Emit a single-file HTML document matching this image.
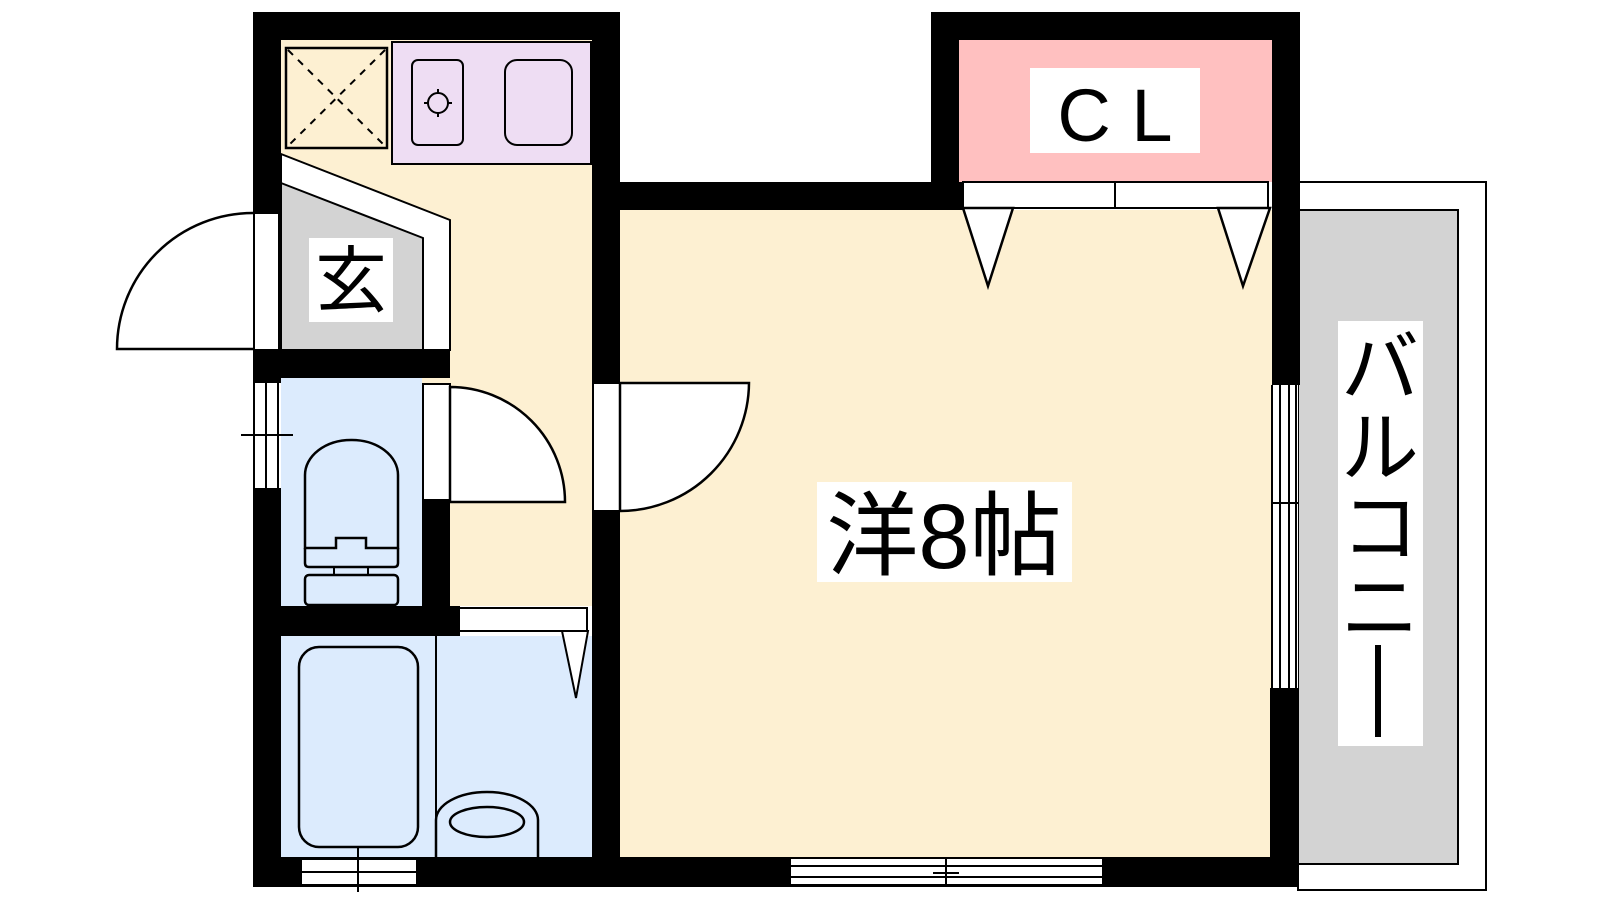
<!DOCTYPE html>
<html><head><meta charset="utf-8"><style>
html,body{margin:0;padding:0;background:#fff;width:1600px;height:900px;overflow:hidden}
svg{display:block}
text{font-family:"Liberation Sans","Noto Sans CJK JP",sans-serif;fill:#000}
</style></head><body>
<svg width="1600" height="900" viewBox="0 0 1600 900" xmlns="http://www.w3.org/2000/svg">
<rect x="281" y="40" width="311" height="566" fill="#FDF0D2"/>
<rect x="620" y="210" width="652" height="647" fill="#FDF0D2"/>
<rect x="959" y="40" width="313" height="142" fill="#FFC0C0"/>
<rect x="392" y="42" width="199" height="122" fill="#EEDDF3" stroke="#000" stroke-width="2"/>
<rect x="281" y="378" width="141" height="228" fill="#DCEBFD"/>
<rect x="281" y="636" width="311" height="221" fill="#DCEBFD"/>
<rect x="1298" y="182" width="188" height="708" fill="#fff" stroke="#000" stroke-width="2"/>
<rect x="1298" y="210" width="160" height="654" fill="#D3D3D3" stroke="#000" stroke-width="2"/>
<polygon points="281,154 450,220 450,350 281,350" fill="#fff" stroke="#000" stroke-width="2"/>
<polygon points="281,183 423,238 423,350 281,350" fill="#D3D3D3" stroke="#000" stroke-width="2"/>
<rect x="286" y="48" width="101" height="100" fill="#FDF0D2" stroke="#000" stroke-width="2.5"/>
<path d="M288 50 L385 146 M385 50 L288 146" stroke="#000" stroke-width="2" stroke-dasharray="7,7"/>
<rect x="412" y="60" width="51" height="85" rx="6" fill="none" stroke="#000" stroke-width="2"/>
<circle cx="438" cy="103" r="10" fill="none" stroke="#000" stroke-width="2"/>
<path d="M438 89v5M438 112v5M424 103h5M447 103h5" stroke="#000" stroke-width="2"/>
<rect x="505" y="60" width="67" height="85" rx="12" fill="none" stroke="#000" stroke-width="2"/>
<g fill="#000">
<rect x="253" y="12" width="367" height="28"/>
<rect x="253" y="12" width="28" height="201"/>
<rect x="592" y="12" width="28" height="371"/>
<rect x="592" y="511" width="28" height="376"/>
<rect x="253" y="350" width="197" height="28"/>
<rect x="253" y="378" width="28" height="5"/>
<rect x="253" y="488" width="28" height="399"/>
<rect x="422" y="500" width="28" height="106"/>
<rect x="253" y="606" width="207" height="30"/>
<rect x="253" y="857" width="1045" height="30"/>
<rect x="592" y="182" width="371" height="28"/>
<rect x="931" y="12" width="369" height="28"/>
<rect x="931" y="12" width="28" height="198"/>
<rect x="1272" y="12" width="28" height="373"/>
<rect x="1270" y="688" width="28" height="199"/>
</g>
<rect x="254" y="213" width="25" height="137" fill="#fff" stroke="#000" stroke-width="2"/>
<path d="M253 349 L117 349 A136 136 0 0 1 253 213" fill="#fff" stroke="#000" stroke-width="2.5"/>
<rect x="254" y="383" width="25" height="105" fill="#fff"/>
<path d="M254 383v105M266 383v105M278 383v105M241 435h52" stroke="#000" stroke-width="2"/>
<rect x="423" y="384" width="27" height="116" fill="#fff" stroke="#000" stroke-width="2"/>
<path d="M450 387 A115 115 0 0 1 565 502 L450 502 Z" fill="#fff" stroke="#000" stroke-width="2.5"/>
<path d="M305 548 L305 475 A46 35 0 0 1 351 440 A46 35 0 0 1 398 475 L398 548 L366 548 L366 538 L336 538 L336 548 Z" fill="none" stroke="#000" stroke-width="2.5"/>
<path d="M305 548 L305 563 Q305 567 309 567 L394 567 Q398 567 398 563 L398 548" fill="none" stroke="#000" stroke-width="2.5"/>
<path d="M334 567v8M368 567v8" stroke="#000" stroke-width="2"/>
<rect x="305" y="575" width="93" height="30" rx="4" fill="none" stroke="#000" stroke-width="2.5"/>
<rect x="459" y="608" width="128" height="23" fill="#fff" stroke="#000" stroke-width="2"/>
<polygon points="562,631 588,631 576,698" fill="#fff" stroke="#000" stroke-width="2"/>
<path d="M436 636v221" stroke="#000" stroke-width="2"/>
<rect x="299" y="647" width="119" height="200" rx="20" fill="none" stroke="#000" stroke-width="2.5"/>
<path d="M436 857 L436 820 A51 28 0 0 1 538 820 L538 857" fill="none" stroke="#000" stroke-width="2.5"/>
<ellipse cx="487" cy="822" rx="37" ry="15" fill="none" stroke="#000" stroke-width="2.5"/>
<rect x="302" y="859" width="114" height="26" fill="#fff"/>
<path d="M302 859h114M302 872h114M302 885h114M358 847v45" stroke="#000" stroke-width="2"/>
<rect x="593" y="383" width="27" height="128" fill="#fff" stroke="#000" stroke-width="2"/>
<path d="M620 383 L749 383 A129 129 0 0 1 620 511 Z" fill="#fff" stroke="#000" stroke-width="2.5"/>
<rect x="791" y="858" width="311" height="27" fill="#fff"/>
<path d="M791 858h311M791 866h311M791 877h311M791 885h311M946 858v27M933 873h26" stroke="#000" stroke-width="2"/>
<rect x="1272" y="385" width="26" height="303" fill="#fff"/>
<path d="M1272 385v303M1280 385v303M1289 385v303M1296 385v303M1272 503h26M1280 493v24" stroke="#000" stroke-width="2"/>
<rect x="963" y="182" width="305" height="26" fill="#fff" stroke="#000" stroke-width="2"/>
<path d="M1115 182v26" stroke="#000" stroke-width="2"/>
<polygon points="963,208 1013,208 988,286" fill="#fff" stroke="#000" stroke-width="2.5"/>
<polygon points="1218,208 1270,208 1243,286" fill="#fff" stroke="#000" stroke-width="2.5"/>
<rect x="309" y="238" width="84" height="84" fill="#fff"/>
<text x="351" y="306" font-size="72" text-anchor="middle">玄</text>
<rect x="1030" y="68" width="170" height="85" fill="#fff"/>
<text x="1115" y="141" font-size="74" text-anchor="middle">C L</text>
<rect x="817" y="482" width="255" height="100" fill="#fff"/>
<text x="944" y="568" font-size="92" text-anchor="middle">洋8帖</text>
<rect x="1338" y="321" width="85" height="425" fill="#fff"/>
<text x="1380" y="395" font-size="78" text-anchor="middle">バ</text>
<text x="1380" y="475" font-size="78" text-anchor="middle">ル</text>
<text x="1380" y="555" font-size="78" text-anchor="middle">コ</text>
<text x="1380" y="635" font-size="78" text-anchor="middle">ニ</text>
<rect x="1375" y="645" width="6" height="92" fill="#000"/>
</svg>
</body></html>
